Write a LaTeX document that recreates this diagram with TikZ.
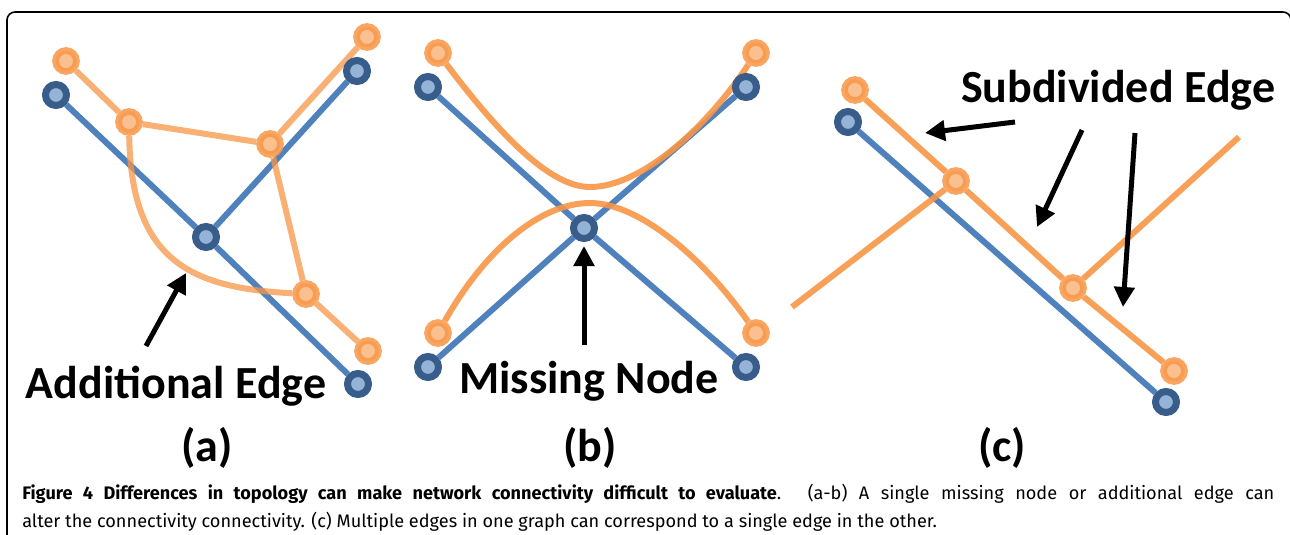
\documentclass[tikz,border=0pt]{standalone}
\usepackage{fontspec}
\setmainfont{Carlito}
\newfontfamily\capfont{Fira Sans}
\usetikzlibrary{arrows.meta}
\pgfdeclarelayer{bluelayer}
\pgfdeclarelayer{orangelayer}
\pgfsetlayers{bluelayer,orangelayer,main}
\definecolor{bline}{HTML}{4F81BD}
\definecolor{bring}{HTML}{385D8A}
\definecolor{bfill}{HTML}{95B3D7}
\definecolor{oline}{HTML}{F79646}
\definecolor{ofill}{HTML}{FAC090}
\tikzset{
  bedge/.style={draw=bline,line width=4.5pt},
  oedge/.style={draw=oline,line width=4.5pt,draw opacity=0.9},
  oedgea/.style={draw=oline,line width=4.5pt,draw opacity=0.75},
  bnode/.style={circle,inner sep=0pt,minimum size=15.75pt,fill=bfill,draw=bring,line width=5.25pt},
  onode/.style={circle,inner sep=0pt,minimum size=15.75pt,fill=ofill,draw=oline,draw opacity=0.85,line width=5pt},
  pointer/.style={draw=black,line width=3.75pt,-{Triangle[length=15pt,width=15pt]}},
  biglabel/.style={font=\bfseries\fontsize{34.5}{40}\selectfont,inner sep=0pt,anchor=base},
  frame/.style={draw=black,line width=1.2pt,rounded corners=6pt},
  caption/.style={font=\capfont\fontsize{13.6}{16}\selectfont,inner sep=0pt,anchor=base west}
}
\begin{document}
\begin{tikzpicture}[x=0.75pt,y=-0.75pt]
\useasboundingbox (0,0) rectangle (1290,535);
\draw[frame] (7,560) -- (7,12) -- (1291,12) -- (1291,560);

% ---------- panel (a) ----------
\node[bnode] (a1) at (56,95) {};
\node[bnode] (a2) at (357,71) {};
\node[bnode] (ac) at (206,237) {};
\node[bnode] (a3) at (358,384) {};
\node[onode] (p1) at (66,61) {};
\node[onode] (p2) at (129,122) {};
\node[onode] (p3) at (270,144) {};
\node[onode] (p4) at (367,37) {};
\node[onode] (p5) at (306,294) {};
\node[onode] (p6) at (368,351) {};
\begin{pgfonlayer}{bluelayer}
  \draw[bedge] (a1) -- (ac) -- (a3);
  \draw[bedge] (ac) -- (a2);
\end{pgfonlayer}
\begin{pgfonlayer}{orangelayer}
  \draw[oedgea] (p1) -- (p2) -- (p3) -- (p4);
  \draw[oedgea] (p3) -- (p5) -- (p6);
  \draw[oedgea] (p2) .. controls (131,260) and (190,288) .. (p5);
\end{pgfonlayer}
\coordinate (aa0) at (146,346);
\coordinate (aa1) at (186,273);
\draw[pointer] (aa0) -- (aa1);
\node[biglabel] (la) at (176,398) {Additional Edge};
\node[biglabel] (ta) at (207,461) {(a)};

% ---------- panel (b) ----------
\node[bnode] (b1) at (428,87) {};
\node[bnode] (b2) at (746,87) {};
\node[bnode] (bc) at (584,228) {};
\node[bnode] (b3) at (428,367) {};
\node[bnode] (b4) at (746,367) {};
\node[onode] (q1) at (438,53) {};
\node[onode] (q2) at (756,53) {};
\node[onode] (q3) at (438,333) {};
\node[onode] (q4) at (756,333) {};
\coordinate (qtop) at (590,187);
\coordinate (qbot) at (590,203);
\begin{pgfonlayer}{bluelayer}
  \draw[bedge] (b1) -- (bc) -- (b4);
  \draw[bedge] (b2) -- (bc) -- (b3);
\end{pgfonlayer}
\begin{pgfonlayer}{orangelayer}
  \draw[oedge] (q1) .. controls (500,135) and (550,187) .. (qtop)
                    .. controls (640,187) and (705,130) .. (q2);
  \draw[oedge] (q3) .. controls (485,250) and (540,203) .. (qbot)
                    .. controls (640,203) and (705,260) .. (q4);
\end{pgfonlayer}
\coordinate (ba0) at (584,345);
\coordinate (ba1) at (584,246);
\draw[pointer] (ba0) -- (ba1);
\node[biglabel] (lb) at (589,393) {Missing Node};
\node[biglabel] (tb) at (590,461) {(b)};

% ---------- panel (c) ----------
\node[bnode] (c1) at (848,122) {};
\node[bnode] (c2) at (1166,402) {};
\node[onode] (r1) at (855,90) {};
\node[onode] (r2) at (956,181) {};
\node[onode] (r3) at (1073,288) {};
\node[onode] (r4) at (1174,371) {};
\coordinate (rfree1) at (792,307);
\coordinate (rfree2) at (1239,137);
\begin{pgfonlayer}{bluelayer}
  \draw[bedge] (c1) -- (c2);
\end{pgfonlayer}
\begin{pgfonlayer}{orangelayer}
  \draw[oedge] (r1) -- (r2) -- (r3) -- (r4);
  \draw[oedge] (rfree1) -- (r2);
  \draw[oedge] (r3) -- (rfree2);
\end{pgfonlayer}
\coordinate (ca0) at (1015,122);
\coordinate (ca1) at (925,133);
\coordinate (cb0) at (1082,130);
\coordinate (cb1) at (1037,227);
\coordinate (cc0) at (1135,133);
\coordinate (cc1) at (1123,307);
\draw[pointer] (ca0) -- (ca1);
\draw[pointer] (cb0) -- (cb1);
\draw[pointer] (cc0) -- (cc1);
\node[biglabel] (lc) at (1118,103) {Subdivided Edge};
\node[biglabel] (tc) at (1002,461) {(c)};

% ---------- caption ----------
\node[caption] (cap1) at (22,499) {\hbox to 939pt{\textbf{Figure 4 Differences in topology can make network connectivity difficult to evaluate}. (a-b) A single missing node or additional edge can}};
\node[caption] (cap2) at (22,527) {alter the connectivity connectivity. (c) Multiple edges in one graph can correspond to a single edge in the other.};
\end{tikzpicture}
\end{document}
